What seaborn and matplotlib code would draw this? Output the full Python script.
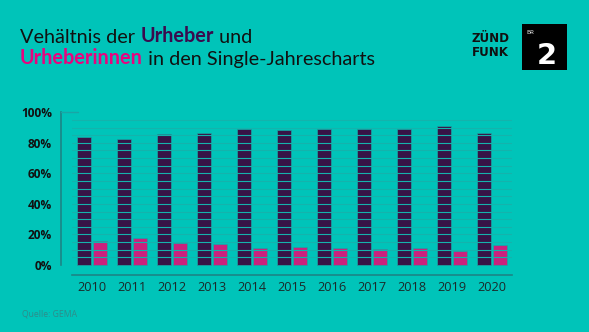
import numpy as np
import pandas as pd
import matplotlib
matplotlib.use("Agg")
import matplotlib.pyplot as plt
import seaborn as sns
from matplotlib.patches import Rectangle

years = ["2010", "2011", "2012", "2013", "2014", "2015", "2016", "2017", "2018", "2019", "2020"]
urheber = [84, 82.7, 85.8, 86.4, 88.8, 88.4, 89, 89.3, 89, 91, 86.6]
urheberinnen = [16, 17.7, 14.4, 13.8, 11.4, 11.8, 10.9, 10.5, 10.9, 9.2, 13.3]
groups = ["Urheber", "Urheberinnen"]
ytick_vals = [0, 20, 40, 60, 80, 100]
ytick_labels = ["0%", "20%", "40%", "60%", "80%", "100%"]

BG = "#00C4B9"
PURPLE = "#3A0B4E"
PINK = "#E8047F"
GRID = "#14B3AC"
EDGE = "#1AA5A5"
AXC = "#1C8586"

sns.set_theme(style="white")
plt.rcParams["font.family"] = ["Open Sans", "DejaVu Sans"]

df = pd.DataFrame({
    "year": years * 2,
    "group": [groups[0]] * len(years) + [groups[1]] * len(years),
    "value": urheber + urheberinnen,
})

fig = plt.figure(figsize=(5.89, 3.32), dpi=100, facecolor=BG)
ax = fig.add_axes([72 / 589, 1 - 275 / 332, 440 / 589, (275 - 112.3) / 332])
ax.set_facecolor(BG)

sns.barplot(data=df, x="year", y="value", hue="group", palette=[PURPLE, PINK],
            width=0.8, gap=0.08, edgecolor=EDGE, linewidth=0.5, ax=ax,
            legend=False, errorbar=None)

ax.set_xlim(-0.5, 10.5)
ax.set_ylim(-6.55, 100)
ax.set_xlabel("")
ax.set_ylabel("")

# grid over bars every 5%
ax.set_axisbelow(False)
for v in np.arange(5, 100, 5):
    ax.axhline(v, color=GRID, lw=0.8, zorder=3)
ax.axhline(100, xmin=-11 / 440, xmax=6 / 440, color=EDGE, lw=1.0, clip_on=False, zorder=3)

for s in ["top", "right"]:
    ax.spines[s].set_visible(False)
ax.spines["left"].set_position(("outward", 7.9))
ax.spines["left"].set_bounds(0, 100)
ax.spines["left"].set_color(AXC)
ax.spines["left"].set_linewidth(1.2)
ax.spines["bottom"].set_color(AXC)
ax.spines["bottom"].set_linewidth(1.2)

ax.set_yticks(ytick_vals)
ax.set_yticklabels(ytick_labels)
ax.tick_params(axis="y", length=0, pad=6.5, labelsize=8.6, labelcolor="#111111")
for t in ax.get_yticklabels():
    t.set_fontweight("bold")

ax.set_xticks(range(len(years)))
ax.set_xticklabels(years)
ax.tick_params(axis="x", which="major", length=0, pad=4.5, labelsize=9.2, labelcolor="#1a2a2a")
ax.set_xticks(np.arange(-0.5, 11, 1), minor=True)
ax.tick_params(axis="x", which="minor", direction="in", length=3, width=1.0, color=AXC)

# Title with mixed colors
TF = ["Lato", "DejaVu Sans"]
fs = 14.3
t1 = fig.text(20 / 589, 1 - 42.7 / 332, "Vehältnis der ", fontsize=fs, color="#111111", va="baseline", ha="left", family=TF)
t2 = ax.annotate("Urheber", xy=(1, 0), xycoords=t1, fontsize=fs, fontweight="bold", color=PURPLE, va="bottom", ha="left", annotation_clip=False, family=TF)
t3 = ax.annotate(" und", xy=(1, 0), xycoords=t2, fontsize=fs, color="#111111", va="bottom", ha="left", annotation_clip=False, family=TF)
t4 = fig.text(20 / 589, 1 - 63.7 / 332, "Urheberinnen", fontsize=fs, fontweight="bold", color=PINK, va="baseline", ha="left", family=TF)
t5 = ax.annotate(" in den Single-Jahrescharts", xy=(1, 0), xycoords=t4, fontsize=fs, color="#111111", va="bottom", ha="left", annotation_clip=False, family=TF)

# Logo
LF = ["DejaVu Sans"]
fig.text(471.5 / 589, 1 - 38.5 / 332, "ZÜND", fontsize=8.6, fontweight="bold", color="#111111", va="center", ha="left", family=LF)
fig.text(471.5 / 589, 1 - 53 / 332, "FUNK", fontsize=8.6, fontweight="bold", color="#111111", va="center", ha="left", family=LF)
fig.patches.append(Rectangle((521.7 / 589, 1 - 70 / 332), 45 / 589, 46 / 332, transform=fig.transFigure,
                             facecolor="black", edgecolor="none"))
fig.text(547 / 589, 1 - 55.5 / 332, "2", fontsize=21, fontweight="bold", color="white", va="center", ha="center",
         family=LF)
fig.text(526 / 589, 1 - 32 / 332, "BR", fontsize=4.5, color="white", va="center", ha="left")

fig.text(22 / 589, 1 - 313.5 / 332, "Quelle: GEMA", fontsize=6.2, color="#2E8C8A", va="center", ha="left")

fig.savefig("out.png", dpi=100, facecolor=BG)
